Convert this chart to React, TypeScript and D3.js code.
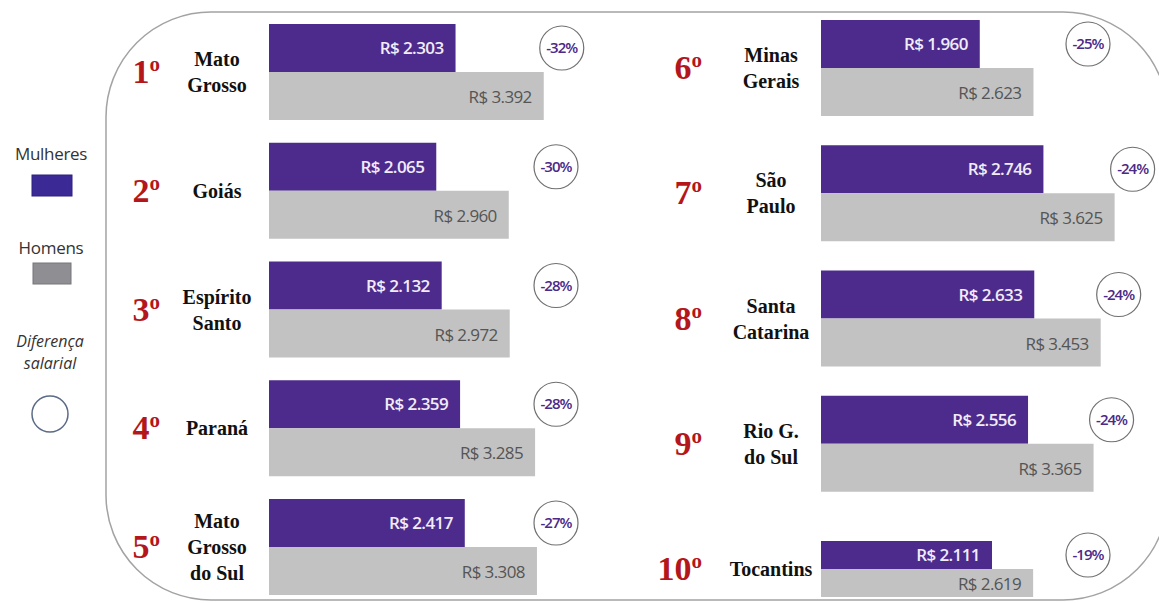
import React from "react";
import * as d3 from "d3";

const ranks = ["1", "2", "3", "4", "5", "6", "7", "8", "9", "10"];
const stateLines = [
  ["Mato", "Grosso"],
  ["Goiás"],
  ["Espírito", "Santo"],
  ["Paraná"],
  ["Mato", "Grosso", "do Sul"],
  ["Minas", "Gerais"],
  ["São", "Paulo"],
  ["Santa", "Catarina"],
  ["Rio G.", "do Sul"],
  ["Tocantins"],
];
const mulheres = [2303, 2065, 2132, 2359, 2417, 1960, 2746, 2633, 2556, 2111];
const homens = [3392, 2960, 2972, 3285, 3308, 2623, 3625, 3453, 3365, 2619];
const diferenca = [-32, -30, -28, -28, -27, -25, -24, -24, -24, -19];
const legendLabels = ["Mulheres", "Homens"];

const W = 1159;
const H = 603;
const PURPLE = "#4d2b8c";
const GRAY = "#c2c2c2";
const RED = "#b3171b";
const SANS = "'Open Sans', sans-serif";
const SERIF = "'Liberation Serif', 'DejaVu Serif', serif";

const brl = d3.formatLocale({
  decimal: ",",
  thousands: ".",
  grouping: [3],
  currency: ["R$ ", ""],
});
const fmt = brl.format("$,");

const xs = d3.scaleLinear().domain([0, 4000]).range([0, 324]);

const columns = [
  { barX: 269, rankX: 160, nameX: 217, circleX: 556, y: d3.scalePoint<string>().domain(ranks.slice(0, 5)).range([72, 547]) },
  { barX: 821, rankX: 702, nameX: 771, circleX: 1088, y: d3.scalePoint<string>().domain(ranks.slice(5)).range([68, 569]) },
];

export default function App() {
  return (
    <svg
      width={W}
      height={H}
      style={{ position: "absolute", left: 0, top: 0, background: "#fff" }}
    >
      <rect x={106} y={12} width={1062} height={588} rx={105} ry={105} fill="none" stroke="#a3a3a3" strokeWidth={1.5} />

      {/* legend */}
      <g fontFamily={SANS} fill="#333" textAnchor="middle">
        <text x={51} y={160} fontSize={17} letterSpacing={-0.3}>{legendLabels[0]}</text>
        <rect x={32} y={175} width={40} height={21} fill="#3b2a96" stroke="#2d2080" strokeWidth={1} />
        <text x={51} y={254} fontSize={17} letterSpacing={-0.3}>{legendLabels[1]}</text>
        <rect x={33} y={263} width={38} height={21} fill="#8e8e93" stroke="#76767a" strokeWidth={1} />
        <text x={50} y={347} fontSize={16} fontStyle="italic">Diferença</text>
        <text x={50} y={369} fontSize={16} fontStyle="italic">salarial</text>
        <circle cx={50} cy={414} r={18} fill="#fff" stroke="#5b6a86" strokeWidth={1.5} />
      </g>

      {ranks.map((r, i) => {
        const col = columns[i < 5 ? 0 : 1];
        const cy = col.y(r) as number;
        const h = Math.min(48, 597 - cy);
        const wM = xs(mulheres[i]);
        const wH = xs(homens[i]);
        const lines = stateLines[i];
        const cx = Math.max(col.circleX, col.barX + wH + 18);
        const ccy = cy - h / 2;
        return (
          <g key={r}>
            <text x={col.rankX} y={cy + 11} textAnchor="end" fontFamily={SERIF} fontWeight="bold" fill={RED}>
              <tspan fontSize={34}>{r}</tspan>
              <tspan fontSize={21} dy={-12}>o</tspan>
            </text>
            {lines.map((ln, j) => (
              <text
                key={j}
                x={col.nameX}
                y={cy + 7 + (j - (lines.length - 1) / 2) * 26}
                textAnchor="middle"
                fontFamily={SERIF}
                fontWeight="bold"
                fontSize={20}
                fill="#111"
              >
                {ln}
              </text>
            ))}
            <rect x={col.barX} y={cy - h} width={wM} height={h} fill={PURPLE} />
            <rect x={col.barX} y={cy} width={wH} height={h} fill={GRAY} />
            <text x={col.barX + wM - 12} y={cy - h / 2 + 6} textAnchor="end" fontFamily={SANS} fontWeight={600} fontSize={17} letterSpacing={-0.6} fill="#f1ecf8">
              {fmt(mulheres[i])}
            </text>
            <text x={col.barX + wH - 12} y={cy + h / 2 + 7} textAnchor="end" fontFamily={SANS} fontSize={17} letterSpacing={-0.6} fill="#555">
              {fmt(homens[i])}
            </text>
            <circle cx={cx} cy={ccy} r={22} fill="#fff" stroke="#707070" strokeWidth={1.2} />
            <text x={cx} y={ccy + 5} textAnchor="middle" fontFamily={SANS} fontWeight={600} fontSize={15} fill="#4b2a88" letterSpacing={-1}>
              {diferenca[i]}%
            </text>
          </g>
        );
      })}
    </svg>
  );
}
